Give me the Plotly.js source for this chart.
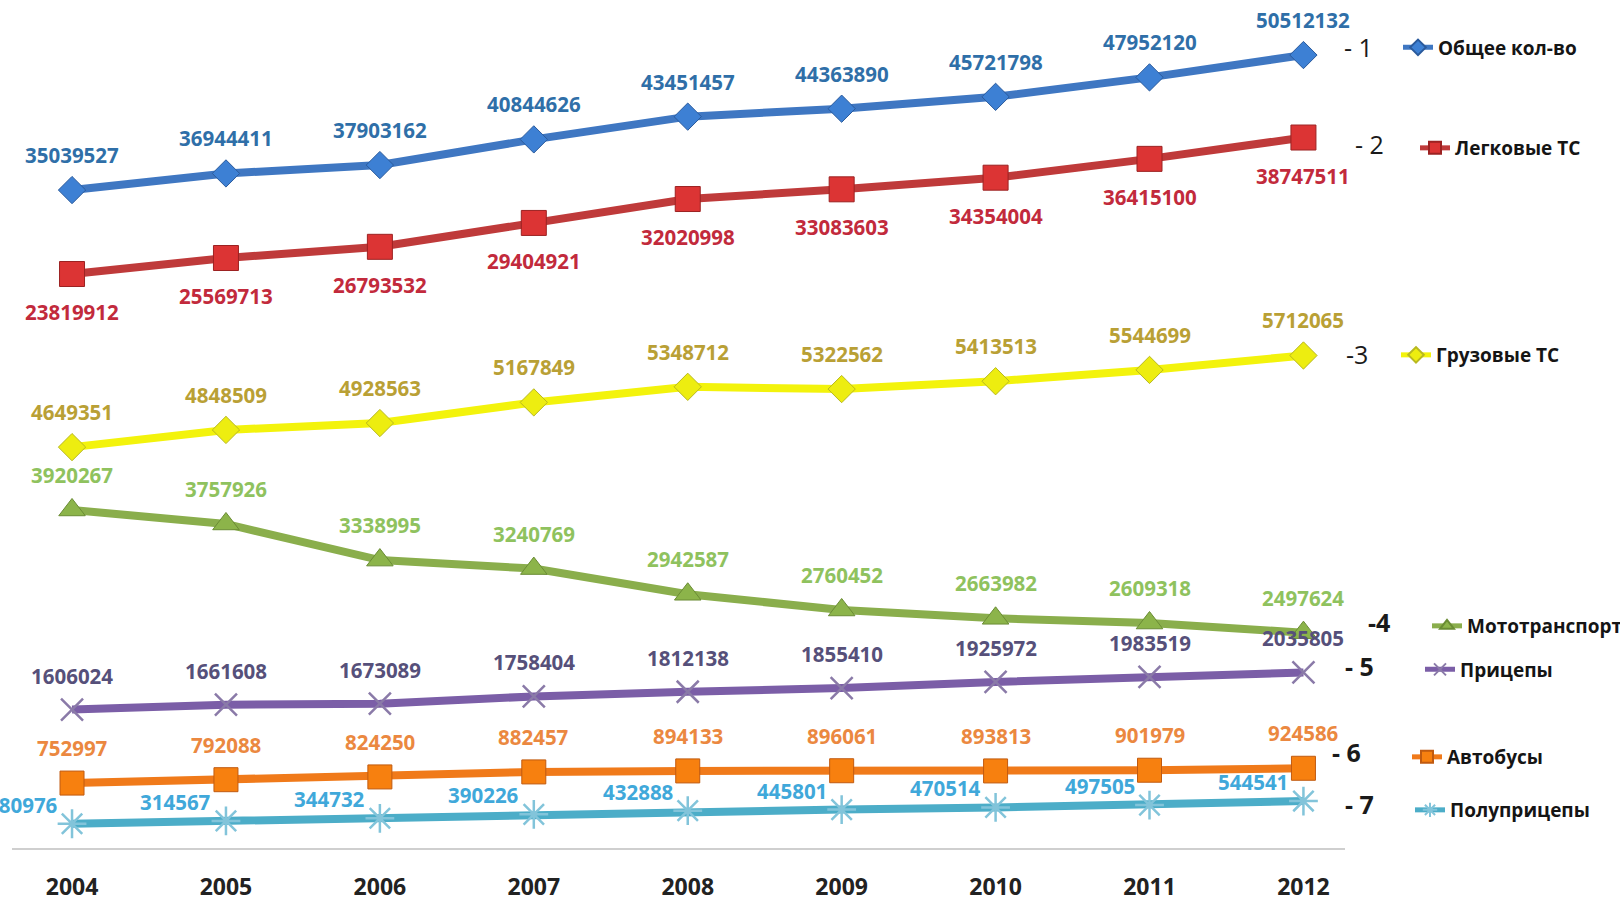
<!DOCTYPE html>
<html>
<head>
<meta charset="utf-8">
<script src="https://cdn.plot.ly/plotly-3.0.1.min.js"></script>
<style>
html,body{margin:0;padding:0;background:#ffffff;}
#chart{width:1620px;height:902px;}
</style>
</head>
<body>
<div id="chart"></div>
<script>
// ---------- DATA ----------
const years = ['2004','2005','2006','2007','2008','2009','2010','2011','2012'];
const seriesNames = ['Общее кол-во','Легковые ТС','Грузовые ТС','Мототранспорт','Прицепы','Автобусы','Полуприцепы'];
const seriesNumbers = ['- 1','- 2','-3','-4','- 5','- 6','- 7'];
const total        = [35039527, 36944411, 37903162, 40844626, 43451457, 44363890, 45721798, 47952120, 50512132];
const cars         = [23819912, 25569713, 26793532, 29404921, 32020998, 33083603, 34354004, 36415100, 38747511];
const trucks       = [4649351, 4848509, 4928563, 5167849, 5348712, 5322562, 5413513, 5544699, 5712065];
const moto         = [3920267, 3757926, 3338995, 3240769, 2942587, 2760452, 2663982, 2609318, 2497624];
const trailers     = [1606024, 1661608, 1673089, 1758404, 1812138, 1855410, 1925972, 1983519, 2035805];
const buses        = [752997, 792088, 824250, 882457, 894133, 896061, 893813, 901979, 924586];
const semitrailers = [280976, 314567, 344732, 390226, 432888, 445801, 470514, 497505, 544541];

const seriesValues = [total, cars, trucks, moto, trailers, buses, semitrailers];

// ---------- STYLES ----------
const styles = [
  {axis:'y2', line:'#3f77c2', symbol:'diamond',       size:21, fill:'#3d80d4', edge:'#2a5a9c', lab:'#2f6fa8', dx:0,   dy:35,  numBold:false},
  {axis:'y3', line:'#bf3a3a', symbol:'square',        size:25, fill:'#dc3434', edge:'#9c2222', lab:'#c22a3c', dx:0,   dy:-38, numBold:false},
  {axis:'y',  line:'#f3f30c', symbol:'diamond',       size:21, fill:'#eded10', edge:'#b8b820', lab:'#b9a035', dx:0,   dy:35,  numBold:false},
  {axis:'y',  line:'#8aae4c', symbol:'triangle-up',   size:23, fill:'#8cb44a', edge:'#6a8c34', lab:'#8fc25e', dx:0,   dy:35,  numBold:true},
  {axis:'y',  line:'#7b5ea7', symbol:'x-thin-open',   size:22, fill:'#8a7aa8', edge:'#8a7aa8', lab:'#56507a', dx:0,   dy:34,  numBold:true},
  {axis:'y',  line:'#f07a1a', symbol:'square',        size:24, fill:'#f7800f', edge:'#c05a10', lab:'#eb8840', dx:0,   dy:35,  numBold:true},
  {axis:'y',  line:'#4cadc8', symbol:'asterisk-open', size:24, fill:'#82c4da', edge:'#82c4da', lab:'#40a8da', dx:-50, dy:19,  numBold:true}
];

// legend placement (container px) and series number label placement (px)
const legendPx = [[1398,47.5],[1415,148],[1396,355],[1427,626],[1420,669.5],[1407,757],[1410,810]];
const numberPx = [[1358,47],[1369,144],[1357,354],[1379,622],[1359,666],[1346,752],[1359,804]];

// plot area in px
const PL = 12, PR = 1345, PT = 0, PB = 848;
const W = 1620, H = 902;

const traces = seriesValues.map((vals, i) => {
  const s = styles[i];
  const open = s.symbol.indexOf('open') >= 0;
  return {
    type: 'scatter',
    mode: 'lines+markers',
    x: years,
    y: vals,
    yaxis: s.axis,
    name: seriesNames[i],
    legend: i === 0 ? 'legend' : 'legend' + (i + 1),
    line: {color: s.line, width: 8},
    marker: {
      symbol: s.symbol,
      size: s.size,
      color: s.fill,
      line: {color: s.edge, width: open ? 2.5 : 1}
    },
    cliponaxis: false,
    hoverinfo: 'skip'
  };
});

const annotations = [];
seriesValues.forEach((vals, i) => {
  const s = styles[i];
  vals.forEach((v, j) => {
    annotations.push({
      x: j, y: v, xref: 'x', yref: s.axis,
      text: String(v), showarrow: false,
      xanchor: 'center', yanchor: 'middle',
      xshift: s.dx, yshift: s.dy,
      font: {family: 'Open Sans', size: 20.5, color: s.lab, weight: 'bold'}
    });
  });
});
seriesNumbers.forEach((t, i) => {
  const p = numberPx[i];
  annotations.push({
    x: (p[0] - PL) / (PR - PL), y: (PB - p[1]) / (PB - PT),
    xref: 'paper', yref: 'paper',
    text: t, showarrow: false, xanchor: 'center', yanchor: 'middle',
    font: {family: 'Open Sans', size: 25, color: '#1a1a1a', weight: styles[i].numBold ? 'bold' : 'normal'}
  });
});

const hiddenAxis = {
  showgrid: false, zeroline: false, showline: false,
  showticklabels: false, ticks: '', fixedrange: true
};

const layout = {
  width: W, height: H,
  paper_bgcolor: '#ffffff', plot_bgcolor: '#ffffff',
  margin: {l: PL, r: W - PR, t: PT, b: H - PB, autoexpand: false},
  showlegend: true,
  xaxis: {
    type: 'category',
    range: [-0.39, 8.27],
    showgrid: false, zeroline: false,
    showline: true, linecolor: '#cfcfcf', linewidth: 2,
    ticks: 'outside', ticklen: 17, tickcolor: 'rgba(0,0,0,0)',
    tickfont: {family: 'Open Sans', size: 23, color: '#222222', weight: 'bold'},
    fixedrange: true
  },
  yaxis:  Object.assign({range: [0, 9.835e6]}, hiddenAxis),
  yaxis2: Object.assign({range: [-40.36e6, 56.82e6], overlaying: 'y'}, hiddenAxis),
  yaxis3: Object.assign({range: [-38.96e6, 53.79e6], overlaying: 'y'}, hiddenAxis),
  annotations: annotations
};

legendPx.forEach((p, i) => {
  const key = i === 0 ? 'legend' : 'legend' + (i + 1);
  layout[key] = {
    xref: 'container', yref: 'container',
    x: p[0] / W, y: 1 - p[1] / H,
    xanchor: 'left', yanchor: 'middle',
    bgcolor: 'rgba(0,0,0,0)', borderwidth: 0,
    itemsizing: 'constant',
    font: {family: 'Open Sans', size: 19, color: '#151515', weight: 'bold'}
  };
});

Plotly.newPlot('chart', traces, layout, {displayModeBar: false, staticPlot: true});
</script>
</body>
</html>
